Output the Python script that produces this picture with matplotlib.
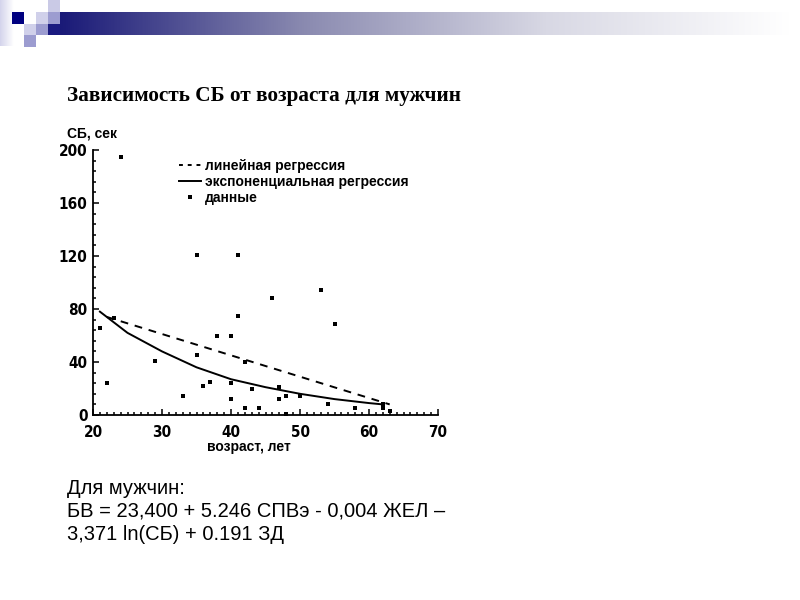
import numpy as np
import matplotlib
matplotlib.use("Agg")
import matplotlib.pyplot as plt
from matplotlib.patches import Rectangle
from matplotlib.lines import Line2D
from matplotlib.colors import LinearSegmentedColormap

# data
ages = [21, 22, 23, 24, 29, 33, 35, 35, 36, 37, 38, 40, 40, 40, 41, 41, 42, 42,
        43, 44, 46, 47, 47, 48, 48, 50, 53, 54, 55, 58, 62, 62, 63]
sb = [66, 24, 73, 195, 41, 14, 45, 121, 22, 25, 60, 60, 24, 12, 121, 75, 40, 5,
      20, 5, 88, 21, 12, 14, 1, 14, 94, 8, 69, 5, 8, 5, 3]

lin_x = [22, 63]
lin_y = [74, 8]

exp_x = [21, 25, 30, 35, 40, 45, 50, 55, 60, 62]
exp_y = [78, 62, 48, 36, 27, 21, 16, 12, 9, 8]

title = "Зависимость СБ от возраста для мужчин"
legend_labels = ["линейная регрессия", "экспоненциальная регрессия", "данные"]
note_lines = ["Для мужчин:",
              "БВ = 23,400 + 5.246 СПВэ - 0,004 ЖЕЛ –",
              "3,371 ln(СБ) + 0.191 ЗД"]

sans = ["Liberation Sans", "DejaVu Sans"]

fig = plt.figure(figsize=(8, 6), dpi=100)

# slide decoration (pixel coords)
bg = fig.add_axes([0, 0, 1, 1])
band_cmap = LinearSegmentedColormap.from_list("band", ["#1a1a78", "#8a8ab0", "#d8d8e4", "#ffffff"])
bg.imshow(np.linspace(0, 1, 256).reshape(1, -1), cmap=band_cmap, aspect="auto",
          extent=(60, 790, 35, 12), zorder=1)
strip_cmap = LinearSegmentedColormap.from_list("strip", ["#d4d4ec", "#ffffff"])
bg.imshow(np.linspace(0, 1, 32).reshape(1, -1), cmap=strip_cmap, aspect="auto",
          extent=(0, 14, 46, 0), zorder=1)
squares = [
    (12, 12, 12, 12, "#000080"),
    (36, 12, 12, 12, "#d0d0ea"),
    (48, 0, 12, 12, "#cacae6"),
    (48, 12, 12, 12, "#9c9cd0"),
    (24, 24, 12, 11, "#d0d0ea"),
    (36, 24, 12, 11, "#9c9cd0"),
    (48, 24, 12, 11, "#1a1a80"),
    (24, 35, 12, 12, "#9c9cd0"),
]
for x0, y0, w, h, c in squares:
    bg.add_patch(Rectangle((x0, y0), w, h, color=c, lw=0, zorder=2))
bg.set_xlim(0, 800)
bg.set_ylim(600, 0)
bg.axis("off")

# chart
ax = fig.add_axes([93 / 800, 1 - 415 / 600, 345 / 800, 265 / 600])
ax.patch.set_alpha(0)
ax.plot(lin_x, lin_y, color="black", lw=1.4, dashes=(4, 3.5))
ax.plot(exp_x, exp_y, color="black", lw=1.4)
ax.plot(ages, sb, "s", color="black", ms=2.8, mew=0)

ax.set_xlim(20, 70)
ax.set_ylim(0, 200)
ax.spines["top"].set_visible(False)
ax.spines["right"].set_visible(False)
ax.spines["left"].set_linewidth(1.3)
ax.spines["bottom"].set_linewidth(1.3)
ax.set_xticks(range(20, 71, 10))
ax.set_xticks(range(20, 71, 1), minor=True)
ax.set_yticks(range(0, 201, 40))
ax.set_yticks(range(0, 201, 8), minor=True)
ax.tick_params(which="both", direction="in", width=1.1)
ax.tick_params(which="major", length=4)
ax.tick_params(which="minor", length=2.5)
ax.tick_params(axis="x", pad=7)
ax.tick_params(axis="y", pad=4)
for lab in ax.get_xticklabels() + ax.get_yticklabels():
    lab.set_family("DejaVu Sans")
    lab.set_fontstretch("condensed")
    lab.set_fontweight("bold")
    lab.set_fontsize(11)

ax.text((249 - 93) / 345, -32 / 265, "возраст, лет", transform=ax.transAxes,
        ha="center", va="center", fontsize=10, fontweight="bold", family=sans)

handles = [Line2D([], [], color="black", lw=1.4, dashes=(2, 2.5)),
           Line2D([], [], color="black", lw=1.4),
           Line2D([], [], color="black", ls="none", marker="s", ms=2.8, mew=0)]
fig.legend(handles, legend_labels, loc="upper left",
           bbox_to_anchor=(172 / 800, 1 - 152 / 600), frameon=False,
           handlelength=1.6, handletextpad=0.3, labelspacing=0.15,
           borderpad=0, prop={"family": sans, "weight": "bold", "size": 10})

fig.text(67 / 800, 1 - 96 / 600, title, ha="left", va="center", fontsize=15.3,
         fontweight="bold", family=["Liberation Serif", "DejaVu Serif"])
fig.text(67 / 800, 1 - 133 / 600, "СБ, сек", ha="left", va="center", fontsize=10,
         fontweight="bold", family=sans)

for i, line in enumerate(note_lines):
    fig.text(67 / 800, 1 - (488 + 23 * i) / 600, line, ha="left", va="center",
             fontsize=14.5, family=sans)

fig.savefig("out.png", dpi=100)
